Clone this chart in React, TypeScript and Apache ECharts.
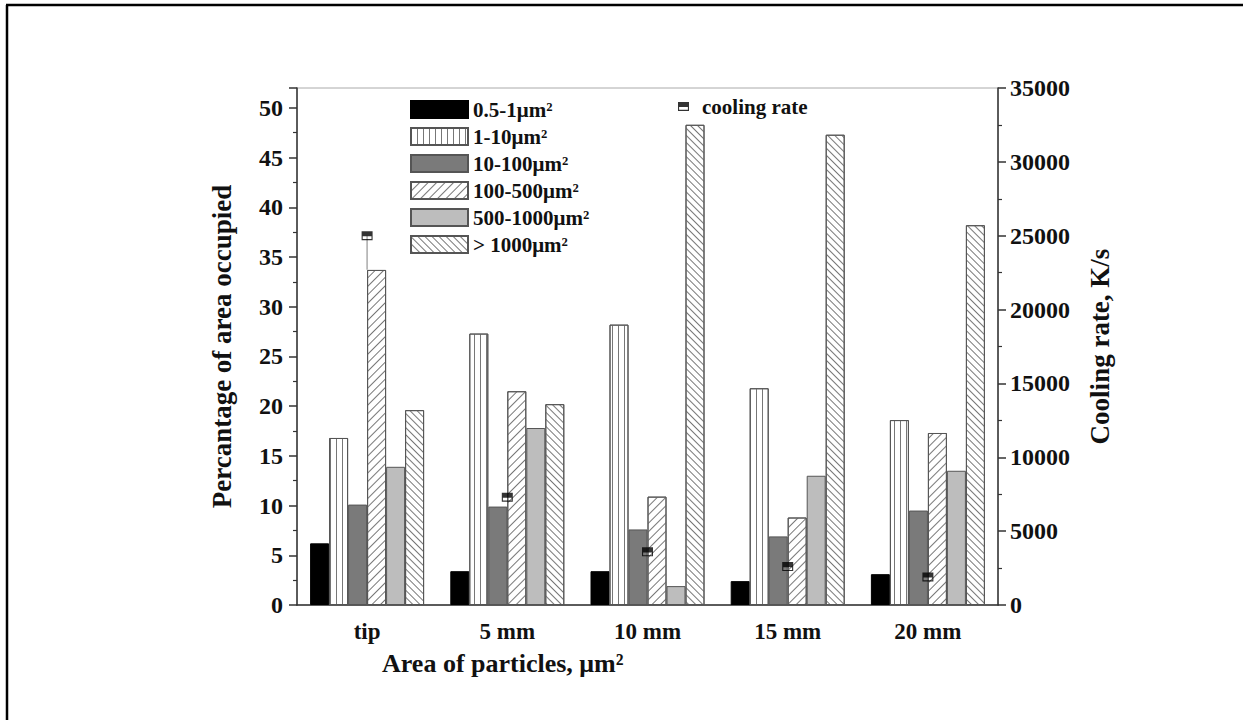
import React, { useEffect, useRef } from "react";
import * as echarts from "echarts";

const categories = ["tip", "5 mm", "10 mm", "15 mm", "20 mm"];
const seriesNames = ["0.5-1μm²", "1-10μm²", "10-100μm²", "100-500μm²", "500-1000μm²", "> 1000μm²"];
const s05to1 = [6.2, 3.4, 3.4, 2.4, 3.1];
const s1to10 = [16.8, 27.3, 28.2, 21.8, 18.6];
const s10to100 = [10.1, 9.9, 7.6, 6.9, 9.5];
const s100to500 = [33.7, 21.5, 10.9, 8.8, 17.3];
const s500to1000 = [13.9, 17.8, 1.9, 13.0, 13.5];
const sOver1000 = [19.6, 20.2, 48.3, 47.3, 38.2];
const coolingRate = [25000, 7300, 3600, 2600, 1900];
const coolingErrLow = [2300, 0, 0, 0, 0];

const FONT = "'Liberation Serif', 'Times New Roman', serif";
const EDGE = "#555";

const MARKER = "path://M0,0H10V8H0Z M1,4.5V7H9V4.5Z";

export default function App() {
  const ref = useRef<HTMLDivElement>(null);
  useEffect(() => {
    const chart = echarts.init(ref.current!, null, { renderer: "svg" });
    const values = [s05to1, s1to10, s10to100, s100to500, s500to1000, sOver1000];
    const styles: any[] = [
      { color: "#000", borderColor: "#000", borderWidth: 1 },
      {
        color: "#fff", borderColor: EDGE, borderWidth: 1,
        decal: { symbol: "rect", symbolSize: 1, color: "#777", dashArrayX: [1, 5], dashArrayY: [6, 0], rotation: 0 },
      },
      { color: "#7a7a7a", borderColor: EDGE, borderWidth: 1 },
      {
        color: "#fff", borderColor: EDGE, borderWidth: 1,
        decal: { symbol: "rect", symbolSize: 1, color: "#777", dashArrayX: [1, 0], dashArrayY: [1, 5], rotation: -Math.PI / 4 },
      },
      { color: "#bdbdbd", borderColor: EDGE, borderWidth: 1 },
      {
        color: "#fff", borderColor: EDGE, borderWidth: 1,
        decal: { symbol: "rect", symbolSize: 1, color: "#777", dashArrayX: [1, 0], dashArrayY: [1, 4], rotation: Math.PI / 4 },
      },
    ];
    const barSeries = values.map((v, i) => ({
      name: seriesNames[i],
      type: "bar",
      data: v,
      barWidth: 19,
      barGap: "0%",
      itemStyle: styles[i],
      xAxisIndex: 0,
      yAxisIndex: 0,
    }));
    const errData = coolingRate.map((v, i) => [i, v, v - coolingErrLow[i]]);
    const axisLabelStyle = { fontFamily: FONT, fontWeight: "bold", fontSize: 24, color: "#111" };
    const nameStyle = { fontFamily: FONT, fontWeight: "bold", fontSize: 27, color: "#111" };
    chart.setOption({
      animation: false,
      backgroundColor: "#fff",
      grid: { left: 297, right: 245, top: 88, bottom: 115, show: true, borderColor: "#aaa", borderWidth: 1 },
      legend: [
        {
          data: seriesNames,
          orient: "vertical",
          icon: "rect",
          left: 405,
          top: 94,
          itemWidth: 57,
          itemHeight: 17,
          itemGap: 6,
          textStyle: { fontFamily: FONT, fontWeight: "bold", fontSize: 21, color: "#111" },
          selectedMode: false,
        },
        {
          data: ["cooling rate"],
          left: 673,
          top: 91,
          itemWidth: 11,
          itemHeight: 9,
          itemGap: 10,
          textStyle: { fontFamily: FONT, fontWeight: "bold", fontSize: 21, color: "#111", padding: [0, 0, 0, 8] },
          selectedMode: false,
        },
      ],
      xAxis: [
        {
          type: "category",
          data: categories,
          axisLine: { lineStyle: { color: "#333", width: 1.5 } },
          axisTick: { alignWithLabel: true, length: 8, lineStyle: { color: "#333", width: 1.5 } },
          axisLabel: { ...axisLabelStyle, fontSize: 23, margin: 15 },
        },
        {
          type: "category",
          data: categories,
          position: "bottom",
          axisLine: { show: false },
          axisTick: { length: 4, lineStyle: { color: "#333", width: 1.5 } },
          axisLabel: { show: false },
        },
      ],
      yAxis: [
        {
          type: "value",
          min: 0,
          max: 52,
          interval: 5,
          name: "Percantage of area occupied",
          nameLocation: "middle",
          nameGap: 62,
          nameTextStyle: nameStyle,
          axisLine: { show: true, lineStyle: { color: "#333", width: 1.5 } },
          axisTick: { show: true, length: 8, lineStyle: { color: "#333", width: 1.5 } },
          minorTick: { show: true, splitNumber: 2, length: 4, lineStyle: { color: "#333", width: 1.2 } },
          axisLabel: { ...axisLabelStyle, margin: 14, showMaxLabel: false },
          splitLine: { show: false },
        },
        {
          type: "value",
          min: 0,
          max: 35000,
          interval: 5000,
          position: "right",
          name: "Cooling rate, K/s",
          nameLocation: "middle",
          nameGap: 88,
          nameTextStyle: nameStyle,
          axisLine: { show: true, lineStyle: { color: "#333", width: 1.5 } },
          axisTick: { show: true, length: 8, lineStyle: { color: "#333", width: 1.5 } },
          minorTick: { show: true, splitNumber: 2, length: 4, lineStyle: { color: "#333", width: 1.2 } },
          axisLabel: { ...axisLabelStyle, margin: 12, formatter: (v: number) => String(v) },
          splitLine: { show: false },
        },
      ],
      series: [
        ...barSeries,
        {
          type: "custom",
          name: "err",
          xAxisIndex: 0,
          yAxisIndex: 1,
          data: errData,
          z: 5,
          renderItem: (params: any, api: any) => {
            const p1 = api.coord([api.value(0), api.value(1)]);
            const p2 = api.coord([api.value(0), api.value(2)]);
            return {
              type: "line",
              shape: { x1: p1[0], y1: p1[1], x2: p2[0], y2: p2[1] },
              style: { stroke: "#aaa", lineWidth: 1.5 },
            };
          },
        },
        {
          name: "cooling rate",
          type: "scatter",
          xAxisIndex: 0,
          yAxisIndex: 1,
          data: coolingRate,
          symbol: MARKER,
          symbolSize: [11, 9],
          itemStyle: { color: "#000" },
          z: 10,
        },
      ],
      graphic: [
        {
          type: "line",
          shape: { x1: 6, y1: 5, x2: 1243, y2: 5 },
          style: { stroke: "#000", lineWidth: 2.5 },
        },
        {
          type: "line",
          shape: { x1: 7, y1: 5, x2: 7, y2: 720 },
          style: { stroke: "#000", lineWidth: 2.5 },
        },
        {
          type: "text",
          left: 382,
          top: 650,
          style: { text: "Area of particles, μm²", font: `bold 26px ${FONT}`, fill: "#111" },
        },
      ],
    });
    return () => chart.dispose();
  }, []);
  return (
    <div
      ref={ref}
      style={{ position: "absolute", left: 0, top: 0, width: 1243, height: 720, background: "#fff" }}
    />
  );
}
